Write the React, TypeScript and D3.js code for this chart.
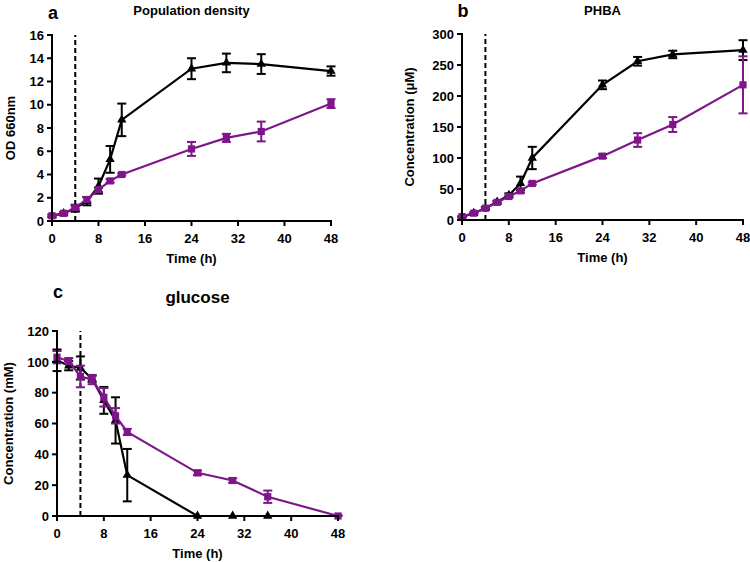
import React from 'react';
import * as d3 from 'd3';

// sampling times (h)
const times = [0, 2, 4, 6, 8, 10, 12, 24, 30, 36, 48];
const glcBlackTimes = [0, 2, 4, 6, 8, 10, 12, 24, 30, 36];

// a: OD 660nm
const odBlack = [0.45, 0.65, 1.1, 1.7, 3.0, 5.3, 8.7, 13.1, 13.6, 13.5, 12.9];
const odBlackErr = [0.1, 0.1, 0.3, 0.35, 0.65, 1.15, 1.4, 0.9, 0.8, 0.85, 0.4];
const odPurple = [0.45, 0.66, 1.15, 1.85, 2.7, 3.45, 4.0, 6.2, 7.15, 7.7, 10.1];
const odPurpleErr = [0.1, 0.1, 0.1, 0.2, 0.2, 0.15, 0.1, 0.6, 0.35, 0.85, 0.38];

// b: PHBA (uM)
const phbaBlack = [5, 11, 19, 29, 40, 59, 100, 218, 256, 267, 274];
const phbaBlackErr = [1, 1, 2, 2, 3, 11, 18, 7, 7, 6, 16];
const phbaPurple = [5.5, 11, 19, 28.5, 38, 47, 59, 103, 129, 154, 218];
const phbaPurpleErr = [1, 1, 1, 2, 2, 3, 2, 3, 11, 12, 46];

// c: glucose (mM)
const glcBlack = [101, 97.5, 96, 89, 75, 62, 26.5, 0, 0, 0];
const glcBlackErr = [7, 3, 7.5, 2, 8.7, 15, 17, 0, 0, 0];
const glcPurple = [103, 100.5, 90.5, 88.5, 77, 65, 54.5, 28, 23, 12.5, 0];
const glcPurpleErr = [4, 2, 7, 3, 6, 5, 2, 1.5, 1.5, 4, 0.5];

const xTicks = [0, 8, 16, 24, 32, 40, 48];
const PURPLE = '#7e168a';
const FONT = '"Liberation Sans", Arial, sans-serif';

type Series = { t: number[]; y: number[]; e: number[]; color: string; marker: 'tri' | 'sq' };

type PanelProps = {
  letter: string;
  letterY: number;
  title: string;
  titleY: number;
  titleSize: number;
  yLabel: string;
  yMax: number;
  yTicks: number[];
  left: number;
  right: number;
  top: number;
  bottom: number;
  yLabelX: number;
  series: Series[];
};

const Panel = (p: PanelProps) => {
  const x = d3.scaleLinear().domain([0, 48]).range([p.left, p.right]);
  const y = d3.scaleLinear().domain([0, p.yMax]).range([p.bottom, p.top]);
  const line = d3.line<[number, number]>().x(d => x(d[0])).y(d => y(d[1]));
  const cx = (p.left + p.right) / 2;
  const tri = d3.symbol().type(d3.symbolTriangle).size(38)();

  return (
    <g fontFamily={FONT} fontWeight="bold" fill="#000">
      <text x={p.left + 1} y={p.letterY} fontSize={18} textAnchor="middle">{p.letter}</text>
      <text x={cx} y={p.titleY} fontSize={p.titleSize} textAnchor="middle">{p.title}</text>

      {/* dashed induction line */}
      <line x1={x(4)} x2={x(4)} y1={y(0)} y2={y(p.yMax)} stroke="#000" strokeWidth={2} strokeDasharray="5,3" />

      {p.series.map((s, si) => {
        const pts: [number, number][] = s.t.map((t, i) => [t, s.y[i]]);
        return (
          <g key={si}>
            <path d={line(pts) || ''} fill="none" stroke={s.color} strokeWidth={2.2} />
            {s.t.map((t, i) => {
              const e = s.e[i];
              if (!e) return null;
              const y1 = y(s.y[i] + e);
              const y2 = y(Math.max(0, s.y[i] - e));
              return (
                <g key={i} stroke={s.color} strokeWidth={2}>
                  <line x1={x(t)} x2={x(t)} y1={y1} y2={y2} />
                  <line x1={x(t) - 4.5} x2={x(t) + 4.5} y1={y1} y2={y1} />
                  <line x1={x(t) - 4.5} x2={x(t) + 4.5} y1={y2} y2={y2} />
                </g>
              );
            })}
            {s.t.map((t, i) =>
              s.marker === 'sq' ? (
                <rect key={'m' + i} x={x(t) - 3.6} y={y(s.y[i]) - 3.6} width={7.2} height={7.2} fill={s.color} />
              ) : (
                <path key={'m' + i} d={tri || ''} transform={`translate(${x(t)},${y(s.y[i])})`} fill={s.color} />
              )
            )}
          </g>
        );
      })}

      {/* axes */}
      <line x1={p.left} x2={p.left} y1={p.bottom + 1} y2={p.top - 1} stroke="#000" strokeWidth={2} />
      <line x1={p.left - 1} x2={p.right + 1} y1={p.bottom} y2={p.bottom} stroke="#000" strokeWidth={2} />
      {p.yTicks.map(v => (
        <g key={'y' + v}>
          <line x1={p.left - 5} x2={p.left} y1={y(v)} y2={y(v)} stroke="#000" strokeWidth={2} />
          <text x={p.left - 8} y={y(v)} dy="0.36em" fontSize={13} textAnchor="end">{v}</text>
        </g>
      ))}
      {xTicks.map(v => (
        <g key={'x' + v}>
          <line x1={x(v)} x2={x(v)} y1={p.bottom} y2={p.bottom + 5} stroke="#000" strokeWidth={2} />
          <text x={x(v)} y={p.bottom + 22} fontSize={13} textAnchor="middle">{v}</text>
        </g>
      ))}
      <text x={cx} y={p.bottom + 42} fontSize={13} textAnchor="middle">Time (h)</text>
      <text transform={`translate(${p.yLabelX},${(p.top + p.bottom) / 2}) rotate(-90)`} dy="0.36em" fontSize={13} textAnchor="middle">
        {p.yLabel}
      </text>
    </g>
  );
};

const App = () => {
  return (
    <svg width={750} height={562} style={{ position: 'absolute', left: 0, top: 0, background: '#fff' }}>
      <Panel
        letter="a" letterY={19} title="Population density" titleY={15} titleSize={13}
        yLabel="OD 660nm" yMax={16}
        yTicks={[0, 2, 4, 6, 8, 10, 12, 14, 16]}
        left={52} right={331} top={35} bottom={221} yLabelX={10}
        series={[
          { t: times, y: odBlack, e: odBlackErr, color: '#000', marker: 'tri' },
          { t: times, y: odPurple, e: odPurpleErr, color: PURPLE, marker: 'sq' },
        ]}
      />
      <Panel
        letter="b" letterY={17} title="PHBA" titleY={15} titleSize={13}
        yLabel="Concentration (μM)" yMax={300}
        yTicks={[0, 50, 100, 150, 200, 250, 300]}
        left={462} right={743} top={34} bottom={220} yLabelX={409}
        series={[
          { t: times, y: phbaBlack, e: phbaBlackErr, color: '#000', marker: 'tri' },
          { t: times, y: phbaPurple, e: phbaPurpleErr, color: PURPLE, marker: 'sq' },
        ]}
      />
      <Panel
        letter="c" letterY={298} title="glucose" titleY={303} titleSize={17}
        yLabel="Concentration (mM)" yMax={120}
        yTicks={[0, 20, 40, 60, 80, 100, 120]}
        left={57} right={338} top={331} bottom={516} yLabelX={8}
        series={[
          { t: glcBlackTimes, y: glcBlack, e: glcBlackErr, color: '#000', marker: 'tri' },
          { t: times, y: glcPurple, e: glcPurpleErr, color: PURPLE, marker: 'sq' },
        ]}
      />
    </svg>
  );
};

export default App;
